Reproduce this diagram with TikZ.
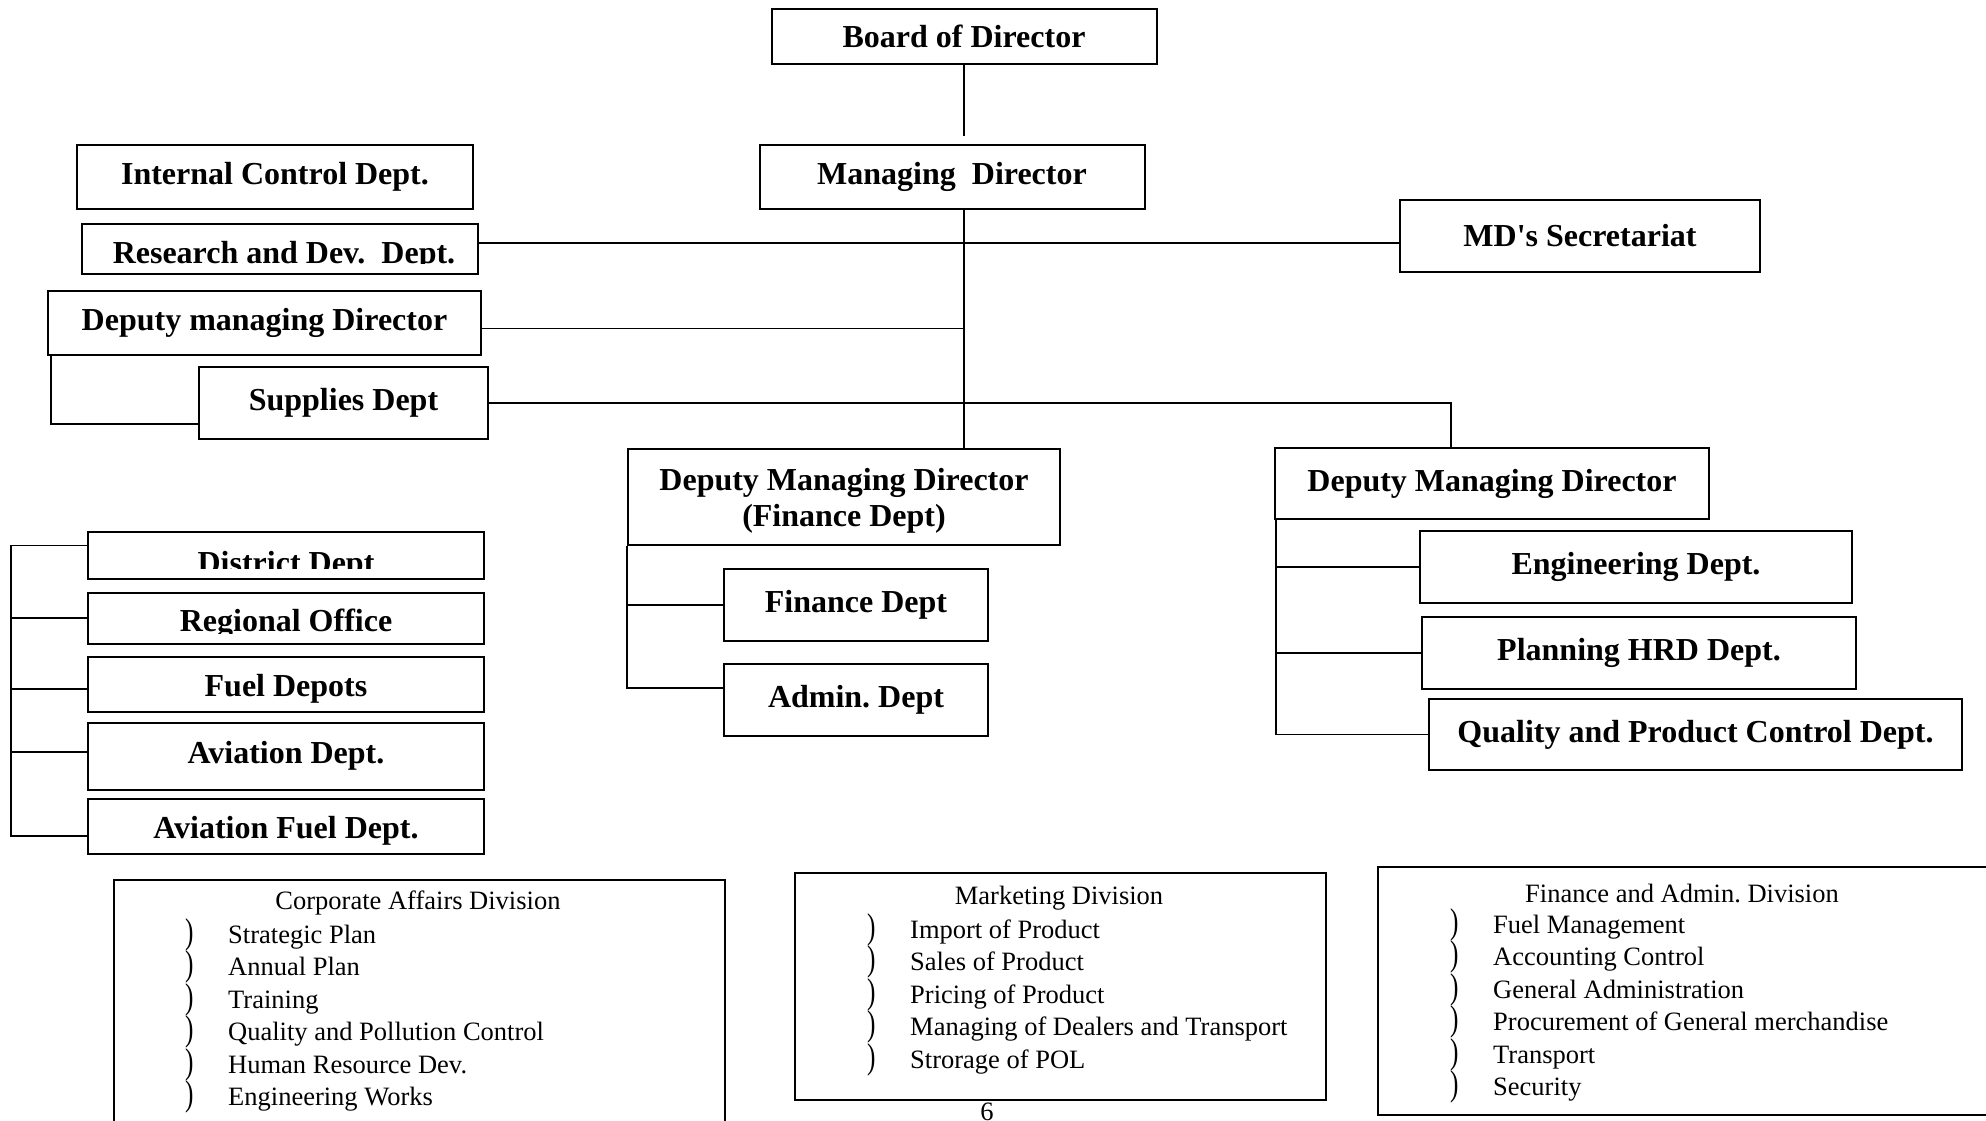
\documentclass[tikz,border=0pt]{standalone}
\usepackage{graphicx}
\usepackage{fontspec}
\setmainfont{Liberation Serif}[Ligatures=TeXOff]
\usetikzlibrary{positioning}
\frenchspacing
\newcommand\deptfont{\fontsize{32}{36.5}\selectfont\bfseries}
\newcommand\divfont{\fontsize{26.5}{32.5}\selectfont}
\newcommand\divbullet{\makebox[43pt][l]{\smash{\scalebox{0.95}[1.35]{)}}}}
\newcommand\lowered[1]{\raisebox{-5pt}[\height][\depth]{#1}}

\begin{document}
\begin{tikzpicture}[
    x=1pt, y=-1pt,
    dept/.style={
        draw, line width=2pt, rectangle,
        inner sep=2pt, align=center,
        font=\deptfont,
    },
    boxsize/.style 2 args={minimum width=#1pt, minimum height=#2pt},
    cliptext/.style={font=\deptfont, inner sep=0pt},
    divbox/.style={
        draw, line width=2pt, rectangle,
        inner sep=0pt, anchor=north west,
    },
    divtitle/.style={font=\divfont, inner sep=0pt},
    divlist/.style={font=\divfont, inner sep=0pt, align=left, anchor=base west},
    conn/.style={line width=1.8pt},
]
\useasboundingbox (0,0) rectangle (1986,1120);
\clip (0,0) rectangle (1986,1120);

% top of the chart
\node[dept, boxsize={385}{55}] (board) at (964,36) {Board of Director};
\node[dept, boxsize={385}{64}] (md) at (952,176.5) {Managing\ \ Director};
\node[dept, boxsize={396}{64}] (intctl) at (275,177) {Internal Control Dept.};
\node[dept, boxsize={396}{50}] (rnd) at (280,249) {};
\node[dept, boxsize={360}{72}] (sec) at (1580,236) {MD's Secretariat};
\node[dept, boxsize={433}{64}] (dmdleft) at (264.5,322.5) {Deputy managing Director};
\node[dept, boxsize={289}{72}] (supply) at (343.5,403) {Supplies Dept};

\begin{scope}
    \clip (rnd.north west) rectangle ([yshift=11.5pt]rnd.south east);
    \node[cliptext] (rndtext) at ([xshift=4pt, yshift=-7pt]rnd.center) {Research and Dev.\ \ Dept.};
\end{scope}

\draw[conn] (board.south) -- ([yshift=8pt]board.south |- md.north);
\draw[conn] (board.south |- md.south) -- (board.south |- 0,448);
\draw[conn] ([yshift=6pt]rnd.east) -- ([yshift=6pt]rnd.east -| sec.west);
\draw[conn] ([yshift=-6pt]dmdleft.east) -- ([yshift=-6pt]dmdleft.east -| board.south);
\draw[conn] ([xshift=4pt]dmdleft.south west) |- ([yshift=-21pt]supply.west);

% finance side
\node[dept, boxsize={432}{96}] (findmd) at (844,496.5) {\rule{0pt}{31pt}Deputy Managing Director\\(Finance Dept)};
\node[dept, boxsize={264}{72}] (findept) at (856,605) {Finance Dept};
\node[dept, boxsize={264}{72}, below=21pt of findept] (admin) {Admin. Dept};

\draw[conn] (findmd.south west) |- ([yshift=12pt]admin.west);
\draw[conn] (findmd.south west |- findept.west) -- (findept.west);

% technical side
\node[dept, boxsize={434}{71}] (dmdright) at (1492,483.5) {Deputy Managing Director};
\node[dept, boxsize={432}{72}] (eng) at (1636,567) {Engineering Dept.};
\node[dept, boxsize={434}{72}] (plan) at (1639,653) {Planning HRD Dept.};
\node[dept, boxsize={533}{71}] (quality) at (1695.5,734.5) {Quality and Product Control Dept.};

\coordinate (drop) at ([xshift=-41pt]dmdright.north);
\draw[conn] (supply.east) -- (supply.east -| drop) -- (drop);
\coordinate (rbar) at ([xshift=2pt]dmdright.south west);
\draw[conn] (rbar) |- (quality.west);
\draw[conn] (rbar |- eng.west) -- (eng.west);
\draw[conn] (rbar |- plan.west) -- (plan.west);

% district offices
\node[dept, boxsize={396}{47}] (district) at (286,555.5) {};
\node[dept, boxsize={396}{51}, below=11.5pt of district] (region) {};
\node[dept, boxsize={396}{55}, below=11pt of region] (depot) {\lowered{Fuel Depots}};
\node[dept, boxsize={396}{67}, below=9pt of depot] (aviation) {Aviation Dept.};
\node[dept, boxsize={396}{55}, below=7pt of aviation] (avfuel) {\lowered{Aviation Fuel Dept.}};

\begin{scope}
    \clip (district.north west) rectangle ([yshift=11.5pt]district.south east);
    \node[cliptext] (districttext) at ([yshift=-10.5pt]district.center) {District Dept};
\end{scope}
\begin{scope}
    \clip (region.north west) rectangle ([yshift=11.5pt]region.south east);
    \node[cliptext] (regiontext) at ([yshift=-6pt]region.center) {Regional Office};
\end{scope}

\coordinate (lbar) at ([xshift=-76pt]district.west);
\draw[conn] ([yshift=10pt]district.west) -- ([yshift=10pt]lbar) |- ([yshift=-10pt]avfuel.west);
\foreach \office/\dy in {region/0, depot/-5, aviation/4}
    \draw[conn] ([yshift=\dy pt]\office.west) -- ++(-76,0);

% divisions (list nodes sit on the baseline of their last line)
\node[divbox, boxsize={611}{300}] (corpdiv) at (113,879) {};
\node[divtitle] (corptitle) at (418,903) {Corporate Affairs Division};
\node[divlist] (corplist) at (185,1105.5) {\divbullet Strategic Plan\\
    \divbullet Annual Plan\\
    \divbullet Training\\
    \divbullet Quality and Pollution Control\\
    \divbullet Human Resource Dev.\\
    \divbullet Engineering Works};

\node[divbox, boxsize={531}{227}] (mktdiv) at (794,872) {};
\node[divtitle] (mkttitle) at (1059,898) {Marketing Division};
\node[divlist] (mktlist) at (867,1068) {\divbullet Import of Product\\
    \divbullet Sales of Product\\
    \divbullet Pricing of Product\\
    \divbullet Managing of Dealers and Transport\\
    \divbullet Strorage of POL};

\node[divbox, boxsize={640}{248}] (findiv) at (1377,866) {};
\node[divtitle] (fintitle) at (1682,893) {Finance and Admin. Division};
\node[divlist] (finlist) at (1450,1095.5) {\divbullet Fuel Management\\
    \divbullet Accounting Control\\
    \divbullet General Administration\\
    \divbullet Procurement of General merchandise\\
    \divbullet Transport\\
    \divbullet Security};

\node[divtitle] (pagenum) at (987,1112) {6};
\end{tikzpicture}
\end{document}
